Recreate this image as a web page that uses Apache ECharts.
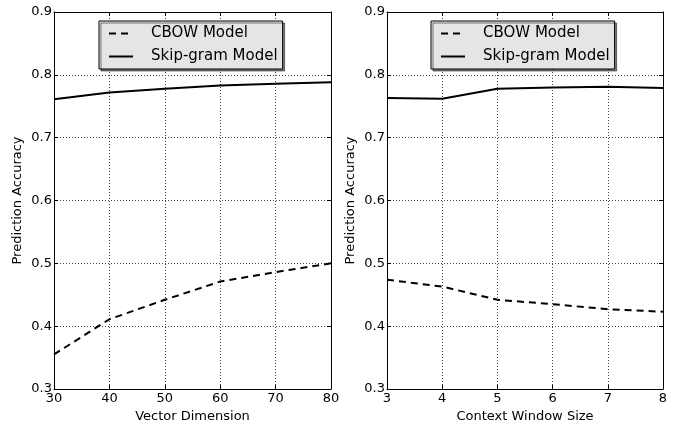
<!DOCTYPE html>
<html>
<head>
<meta charset="utf-8">
<script src="https://cdn.jsdelivr.net/npm/echarts@6/dist/echarts.min.js"></script>
<style>
html,body{margin:0;padding:0;background:#fff;}
#c{width:689px;height:429px;}
</style>
</head>
<body>
<div id="c"></div>
<script>
// Data
const vectorDims = [30, 40, 50, 60, 70, 80];
const cbowByDim = [0.355, 0.411, 0.442, 0.471, 0.486, 0.500];
const skipByDim = [0.761, 0.772, 0.778, 0.783, 0.786, 0.788];

const windowSizes = [3, 4, 5, 6, 7, 8];
const cbowByWin = [0.474, 0.463, 0.442, 0.435, 0.427, 0.423];
const skipByWin = [0.763, 0.762, 0.778, 0.780, 0.781, 0.779];

const yTicks = [0.3, 0.4, 0.5, 0.6, 0.7, 0.8, 0.9];

const FONT = 'DejaVu Sans';
const chart = echarts.init(document.getElementById('c'), null, {renderer: 'canvas'});

function pairs(xs, ys) { return xs.map((x, i) => [x, ys[i]]); }

const grids = [
  {left: 54, right: 358, top: 12, bottom: 40},
  {left: 387, right: 26, top: 12, bottom: 40}
];

function xAx(gi, min, max, interval, name, pos) {
  const main = pos === 'bottom';
  return {
    type: 'value', gridIndex: gi, min: min, max: max, interval: interval, position: pos,
    name: main ? name : '', nameLocation: 'middle', nameGap: 21,
    nameTextStyle: {fontFamily: FONT, fontSize: 13, color: '#000'},
    axisLine: {show: true, onZero: false, lineStyle: {color: '#000', width: 1}},
    axisTick: {show: true, inside: true, length: 4, lineStyle: {color: '#000', width: 1}},
    axisLabel: {show: main, margin: 3, fontFamily: FONT, fontSize: 13, color: '#000'},
    splitLine: {show: main, lineStyle: {color: '#444', type: [1, 2], width: 1}}
  };
}
function yAx(gi, pos) {
  const main = pos === 'left';
  return {
    type: 'value', gridIndex: gi, min: yTicks[0], max: yTicks[yTicks.length - 1], interval: 0.1, position: pos,
    name: main ? 'Prediction Accuracy' : '', nameLocation: 'middle', nameGap: 30,
    nameTextStyle: {fontFamily: FONT, fontSize: 13, color: '#000'},
    axisLine: {show: true, onZero: false, lineStyle: {color: '#000', width: 1}},
    axisTick: {show: true, inside: true, length: 4, lineStyle: {color: '#000', width: 1}},
    axisLabel: {show: main, margin: 2, fontFamily: FONT, fontSize: 13, color: '#000',
      formatter: v => v.toFixed(1)},
    splitLine: {show: main, lineStyle: {color: '#444', type: [1, 2], width: 1}}
  };
}

function legend(left) {
  return {
    left: left, top: 21, orient: 'vertical',
    padding: [5, 5, 5, 9],
    itemWidth: 24, itemHeight: 14, itemGap: 8,
    backgroundColor: '#e5e5e5', borderColor: '#000', borderWidth: 1,
    shadowColor: 'rgba(0,0,0,0.5)', shadowOffsetX: 2, shadowOffsetY: 2, shadowBlur: 0,
    itemStyle: {opacity: 0, borderWidth: 0},
    lineStyle: {width: 2, color: '#000'},
    textStyle: {fontFamily: FONT, fontSize: 15, color: '#000', padding: [0, 0, 0, 13]},
    data: ['CBOW Model', 'Skip-gram Model']
  };
}

const dashed = {color: '#000', width: 2, type: [7, 5]};
const solid = {color: '#000', width: 2, type: 'solid'};

function line(name, data, xi, yi, ls) {
  return {
    type: 'line', name: name, data: data, xAxisIndex: xi, yAxisIndex: yi,
    showSymbol: false, symbol: 'none', lineStyle: ls, itemStyle: {color: '#000'},
    animation: false, silent: true
  };
}

chart.setOption({
  animation: false,
  backgroundColor: '#fff',
  grid: grids,
  legend: [legend(99), legend(431)],
  xAxis: [
    xAx(0, 30, 80, 10, 'Vector Dimension', 'bottom'),
    xAx(0, 30, 80, 10, '', 'top'),
    xAx(1, 3, 8, 1, 'Context Window Size', 'bottom'),
    xAx(1, 3, 8, 1, '', 'top')
  ],
  yAxis: [
    yAx(0, 'left'), yAx(0, 'right'), yAx(1, 'left'), yAx(1, 'right')
  ],
  series: [
    line('CBOW Model', pairs(vectorDims, cbowByDim), 0, 0, dashed),
    line('Skip-gram Model', pairs(vectorDims, skipByDim), 0, 0, solid),
    line('CBOW Model', pairs(windowSizes, cbowByWin), 2, 2, dashed),
    line('Skip-gram Model', pairs(windowSizes, skipByWin), 2, 2, solid)
  ]
});
</script>
</body>
</html>
